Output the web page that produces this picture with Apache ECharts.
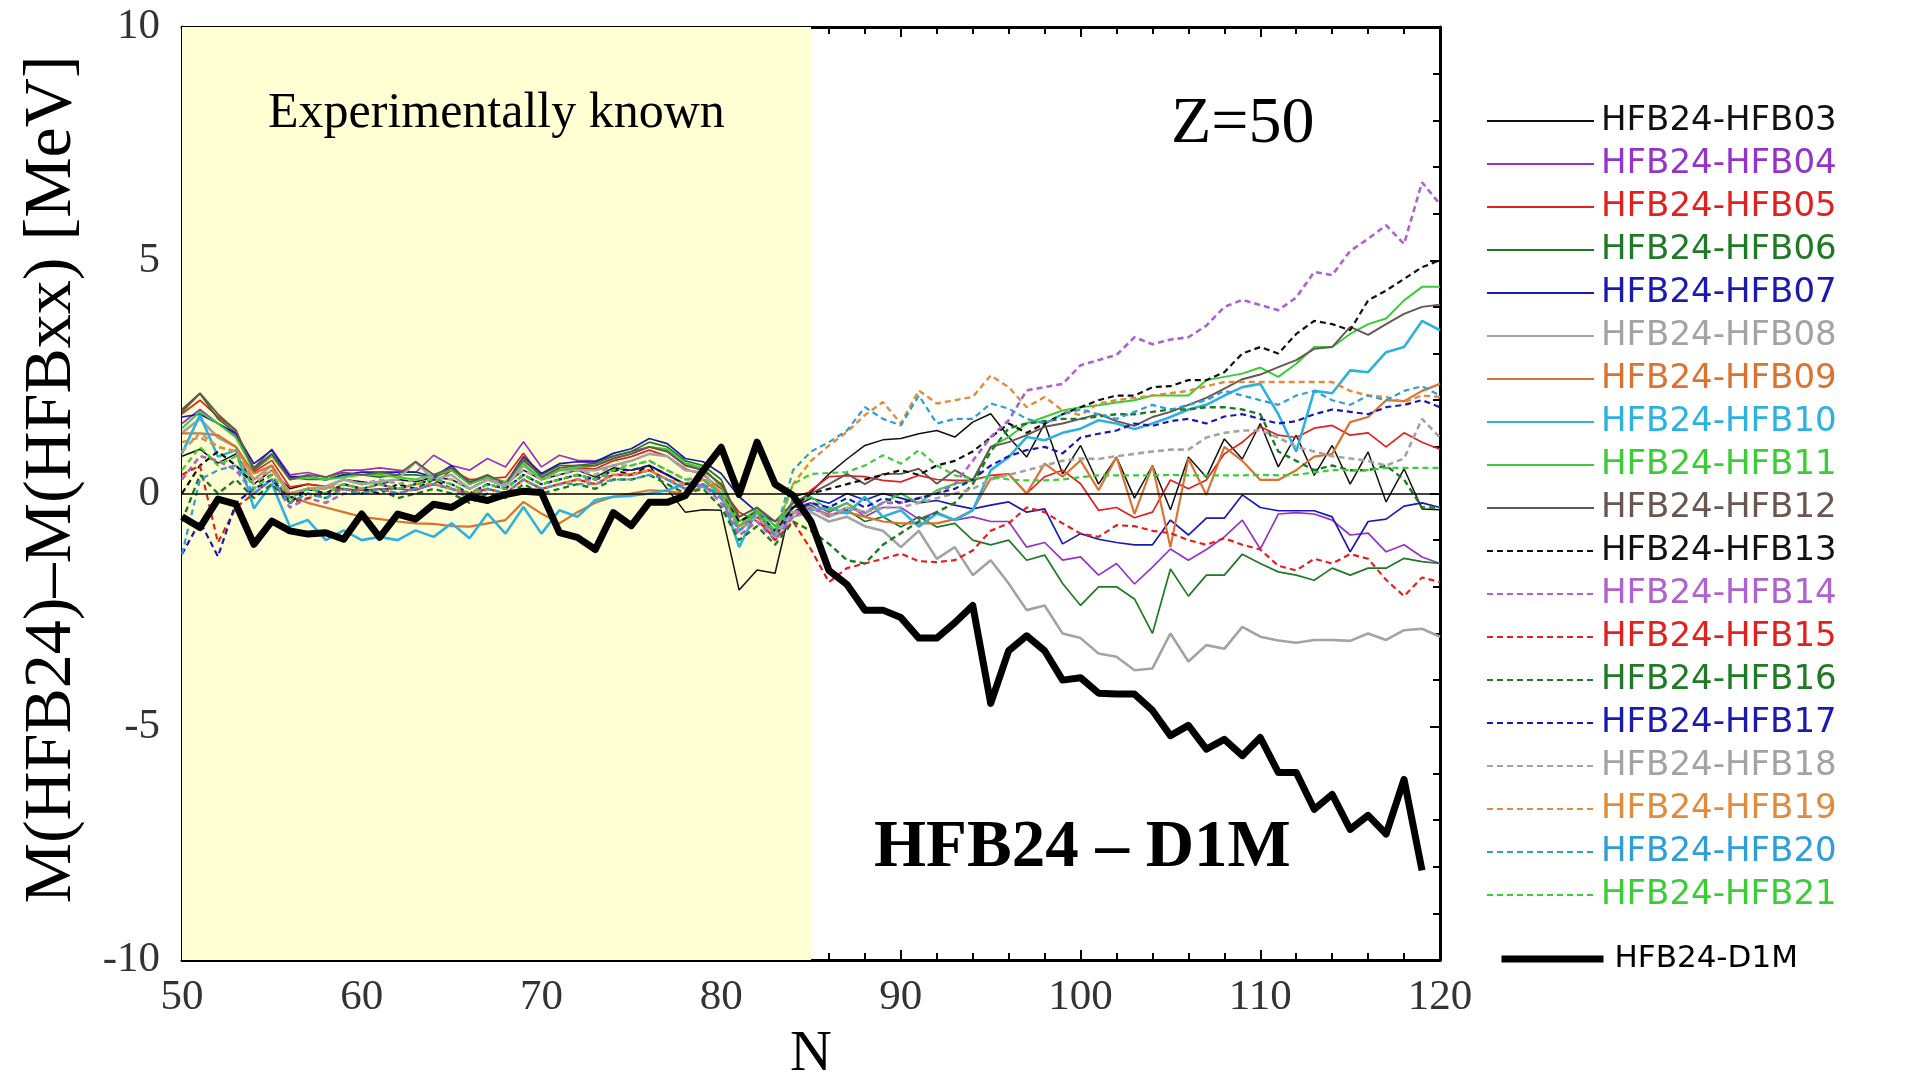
<!DOCTYPE html>
<html>
<head>
<meta charset="utf-8">
<script src="https://cdn.jsdelivr.net/npm/echarts@6/dist/echarts.min.js"></script>
<style>
html,body{margin:0;padding:0;background:#fff;}
#chart{width:1906px;height:1077px;}
</style>
</head>
<body>
<div id="chart"></div>
<script>
// Neutron number N
const N = [50,51,52,53,54,55,56,57,58,59,60,61,62,63,64,65,66,67,68,69,70,71,72,73,74,75,76,77,78,79,80,81,82,83,84,85,86,87,88,89,90,91,92,93,94,95,96,97,98,99,100,101,102,103,104,105,106,107,108,109,110,111,112,113,114,115,116,117,118,119,120];
const xTicks = [50,60,70,80,90,100,110,120];
const yTicks = [-10,-5,0,5,10];
const seriesNames = ['HFB24-HFB03','HFB24-HFB04','HFB24-HFB05','HFB24-HFB06','HFB24-HFB07','HFB24-HFB08','HFB24-HFB09','HFB24-HFB10','HFB24-HFB11','HFB24-HFB12','HFB24-HFB13','HFB24-HFB14','HFB24-HFB15','HFB24-HFB16','HFB24-HFB17','HFB24-HFB18','HFB24-HFB19','HFB24-HFB20','HFB24-HFB21'];
const d1mName = 'HFB24-D1M';

// mass differences [MeV], N = 50 .. 120
const HFB03 = [0.8,0.95,0.65,0.85,0.2,0.5,0.1,0.2,0.15,0.3, 0.25,0.2,0.3,0.25,0.35,0.3,0.1,0.3,0.2,0.5, 0.3,0.4,0.5,0.35,0.55,0.5,0.6,0.1,-0.4,-0.35, -0.36,-2.07,-1.64,-1.71,-0.07,0.03,0.42,0.74,1.03,1.15, 1.18,1.28,1.35,1.21,1.53,1.71,1.21,0.78,1.5,0.42, 1.03,0.2,0.78,-0.1,0.6,-0.35,0.78,0.35,1.17,0.74, 1.5,0.57,1.25,0.39,1.03,0.2,0.89,-0.18,0.53,-0.33, -0.35];
const HFB04 = [1.5,1.8,1.5,1.25,0.55,0.95,0.4,0.45,0.35,0.5, 0.5,0.55,0.5,0.45,0.82,0.6,0.5,0.75,0.57,1.11, 0.57,0.82,0.71,0.7,0.8,0.9,1.0,0.9,0.61,0.5, 0.2,-0.5,-0.3,-0.7,-0.3,-0.2,-0.4,-0.2,-0.5,-0.3, -0.3,-0.55,-0.4,-0.57,-0.5,-0.6,-0.6,-1.15,-1.05,-1.43, -1.36,-1.75,-1.5,-1.94,-1.58,-1.19,-1.43,-1.2,-0.93,-0.57, -1.19,-0.44,-0.41,-0.44,-0.57,-0.89,-0.85,-1.25,-1.1,-1.36, -1.5];
const HFB05 = [1.71,2.0,1.64,1.36,0.46,0.71,0.14,0.2,0.15,0.1, 0.07,0.1,0.1,0.07,0.2,0.5,0.3,0.32,0.35,0.86, 0.35,0.5,0.55,0.53,0.7,0.79,0.93,0.8,0.53,0.4, 0.1,-0.4,-0.6,-0.9,-0.3,0.07,0.36,0.38,0.36,0.28, 0.25,0.39,0.3,0.28,0.28,0.39,0.42,0.0,0.36,0.5, 0.21,-0.36,-0.3,-0.52,-0.4,0.29,0.1,0.29,0.85,1.1, 1.43,1.25,1.2,1.4,1.46,1.25,1.3,1.0,1.3,1.1, 0.95];
const HFB06 = [1.75,2.14,1.6,1.3,0.55,0.85,0.35,0.3,0.3,0.4, 0.4,0.35,0.4,0.4,0.35,0.5,0.2,0.35,0.2,0.7, 0.4,0.6,0.6,0.65,0.8,0.9,1.1,1.0,0.7,0.6, 0.3,-0.6,-0.4,-0.8,-0.3,-0.25,-0.5,-0.35,-0.6,-0.5, -0.72,-0.5,-0.72,-0.64,-1.0,-1.1,-1.0,-1.43,-1.32,-1.93, -2.4,-2.0,-2.0,-2.26,-3.0,-1.62,-2.2,-1.75,-1.75,-1.3, -1.5,-1.68,-1.75,-1.86,-1.6,-1.75,-1.6,-1.6,-1.39,-1.46, -1.5];
const HFB07 = [1.64,1.7,1.5,1.29,0.64,0.93,0.36,0.36,0.29,0.4, 0.46,0.46,0.46,0.46,0.36,0.6,0.21,0.39,0.21,0.79, 0.43,0.64,0.68,0.68,0.86,0.96,1.18,1.07,0.75,0.68, 0.43,-0.07,-0.4,-0.6,-0.3,-0.1,-0.21,0.0,-0.14,0.0, -0.1,-0.2,-0.15,-0.25,-0.33,-0.25,-0.18,-0.4,-0.33,-1.08, -0.86,-0.98,-1.05,-1.1,-1.1,-0.57,-0.89,-0.53,-0.53,-0.03, -0.3,-0.37,-0.37,-0.37,-0.5,-1.25,-0.6,-0.55,-0.27,-0.2, -0.3];
const HFB08 = [1.3,1.6,1.2,1.0,0.3,0.6,0.0,0.1,0.15,0.3, 0.2,0.25,0.3,0.68,0.3,0.4,0.1,0.3,0.15,0.6, 0.3,0.5,0.5,0.5,0.6,0.7,0.85,0.8,0.5,0.45, 0.0,-0.7,-0.5,-0.9,-0.5,-0.4,-0.6,-0.5,-0.7,-0.8, -1.15,-0.8,-1.4,-1.15,-1.75,-1.43,-1.93,-2.5,-2.4,-3.0, -3.1,-3.43,-3.5,-3.79,-3.75,-3.0,-3.6,-3.25,-3.33,-2.86, -3.07,-3.15,-3.2,-3.14,-3.14,-3.16,-3.0,-3.14,-2.93,-2.9, -3.07];
const HFB09 = [1.29,1.29,1.25,1.0,0.43,0.6,-0.07,-0.2,-0.3,-0.4, -0.5,-0.55,-0.6,-0.64,-0.65,-0.7,-0.71,-0.64,-0.57,-0.18, -0.43,-0.64,-0.4,-0.2,-0.07,0.0,0.07,0.05,0.0,0.15, 0.21,-0.79,-0.5,-0.79,-0.43,-0.3,-0.45,-0.4,-0.5,-0.6, -0.64,-0.64,-0.64,-0.55,-0.36,0.32,0.42,0.0,0.64,0.36, 0.71,0.07,0.78,-0.44,0.6,-1.15,0.75,-0.03,1.0,0.7, 0.29,0.29,0.5,0.79,0.85,1.53,1.64,2.0,1.98,2.2, 2.35];
const HFB10 = [0.86,1.68,0.79,0.93,-0.32,0.21,-0.71,-0.57,-1.0,-0.79, -1.0,-0.93,-1.0,-0.79,-0.93,-0.64,-0.96,-0.43,-0.86,-0.29, -0.86,-0.36,-0.5,-0.14,-0.07,-0.05,0.0,0.07,0.21,0.14, 0.0,-1.15,-0.36,-0.93,-0.14,-0.36,-0.3,-0.43,-0.07,-0.5, -0.36,-0.71,-0.43,-0.57,-0.36,0.5,0.78,1.21,1.14,1.3, 1.39,1.57,1.5,1.38,1.5,1.64,1.8,1.9,2.1,2.28, 2.35,1.7,0.9,2.2,2.15,2.64,2.6,3.03,3.14,3.7, 3.5];
const HFB11 = [1.4,1.75,1.5,1.2,0.5,0.8,0.3,0.35,0.3,0.35, 0.4,0.4,0.35,0.3,0.4,0.5,0.2,0.35,0.25,0.65, 0.3,0.5,0.55,0.6,0.75,0.85,1.0,0.95,0.65,0.55, 0.15,-0.6,-0.35,-0.7,-0.2,-0.07,-0.36,-0.21,-0.43,-0.2, 0.0,-0.21,0.07,0.21,0.28,1.0,1.21,1.5,1.64,1.78, 1.85,1.89,1.95,2.0,2.1,2.1,2.1,2.43,2.5,2.57, 2.7,2.5,2.78,3.14,3.14,3.42,3.63,3.75,4.14,4.43, 4.43];
const HFB12 = [1.8,2.15,1.7,1.35,0.5,0.85,0.3,0.4,0.35,0.45, 0.4,0.45,0.4,0.68,0.4,0.55,0.25,0.4,0.2,0.75, 0.35,0.55,0.6,0.6,0.75,0.85,1.0,0.9,0.6,0.5, 0.2,-0.5,-0.3,-0.6,-0.2,0.0,0.2,0.42,0.2,0.42, 0.42,0.53,0.21,0.5,0.28,1.0,1.1,1.25,1.43,1.5, 1.6,1.7,1.55,1.45,1.64,1.75,1.9,2.05,2.25,2.45, 2.55,2.71,2.86,3.1,3.14,3.57,3.4,3.63,3.85,4.0, 4.05];
const HFB13 = [0.0,0.6,0.9,0.6,0.2,0.4,-0.2,0.1,0.0,0.2, 0.1,0.0,0.2,0.1,0.3,0.1,0.0,0.2,0.1,0.4, 0.2,0.3,0.4,0.3,0.5,0.4,0.6,0.4,0.2,0.3, 0.0,-0.6,-0.4,-0.8,-0.3,0.0,0.1,0.2,0.3,0.4, 0.5,0.4,0.6,0.7,0.9,1.2,1.5,1.3,1.5,1.7, 1.85,2.0,2.1,2.1,2.28,2.3,2.43,2.43,2.6,3.0, 3.14,3.0,3.42,3.7,3.63,3.5,4.14,4.35,4.6,4.85, 5.0];
const HFB14 = [0.3,0.8,0.7,0.5,0.0,0.3,-0.3,-0.1,-0.2,0.0, 0.0,0.1,0.0,0.1,0.2,0.1,-0.1,0.1,0.0,0.3, 0.1,0.2,0.3,0.3,0.4,0.4,0.5,0.3,0.1,0.2, -0.2,-0.9,-0.6,-1.0,-0.5,-0.3,-0.5,-0.3,-0.4,-0.2, -0.2,-0.1,0.0,0.2,0.7,1.21,1.57,2.21,2.28,2.35, 2.75,2.86,2.97,3.35,3.2,3.3,3.35,3.6,4.0,4.15, 4.04,3.93,4.2,4.75,4.68,5.2,5.46,5.75,5.35,6.67, 6.2];
const HFB15 = [0.4,0.6,-1.05,-0.3,0.0,0.3,-0.2,-0.1,0.0,0.1, 0.0,0.1,0.0,0.1,0.2,0.1,0.0,0.1,0.0,0.3, 0.1,0.2,0.3,0.2,0.4,0.4,0.5,0.3,0.1,0.2, -0.1,-0.8,-0.5,-1.0,-0.6,-1.2,-1.9,-1.6,-1.5,-1.4, -1.29,-1.45,-1.47,-1.43,-1.22,-0.8,-0.64,-0.3,-0.4,-0.64, -0.86,-0.93,-0.68,-0.7,-0.8,-0.85,-1.0,-1.1,-0.96,-1.1, -1.2,-1.55,-1.65,-1.4,-1.5,-1.3,-1.4,-1.85,-2.2,-1.8, -1.9];
const HFB16 = [-0.6,0.4,0.0,0.3,-0.1,0.2,-0.2,0.0,-0.1,0.1, 0.0,0.1,-0.1,0.0,0.1,0.0,-0.2,0.0,-0.1,0.2, 0.0,0.1,0.2,0.1,0.3,0.3,0.4,0.2,0.0,0.1, -0.3,-1.0,-0.7,-1.1,-0.6,-0.8,-1.08,-1.43,-1.5,-1.1, -0.85,-0.6,-0.4,-0.2,0.2,0.9,1.4,1.5,1.55,1.6, 1.6,1.65,1.7,1.7,1.75,1.8,1.8,1.85,1.85,1.8, 1.7,0.9,0.7,0.5,0.6,0.5,0.5,0.6,0.3,-0.3, -0.3];
const HFB17 = [-1.3,-0.6,-1.35,-0.2,0.1,0.3,-0.1,0.1,0.0,0.2, 0.1,0.2,0.1,0.2,0.3,0.2,0.0,0.2,0.1,0.4, 0.2,0.3,0.4,0.3,0.5,0.5,0.6,0.4,0.2,0.3, 0.0,-0.7,-0.4,-0.9,-0.4,-0.2,-0.3,-0.1,-0.3,-0.1, -0.2,-0.1,0.0,0.1,0.3,0.6,0.8,0.93,1.0,0.86, 1.2,1.28,1.35,1.5,1.45,1.55,1.6,1.5,1.65,1.7, 1.6,1.5,1.55,1.7,1.8,1.75,1.7,1.85,1.9,2.0, 1.85];
const HFB18 = [0.9,1.3,1.0,0.9,0.2,0.5,0.0,0.1,0.1,0.3, 0.2,0.3,0.2,0.3,0.35,0.3,0.1,0.3,0.2,0.5, 0.3,0.4,0.5,0.4,0.6,0.6,0.7,0.5,0.3,0.35, 0.0,-0.8,-0.5,-0.9,-0.4,-0.3,-0.5,-0.3,-0.4,-0.3, -0.3,-0.2,-0.1,0.0,0.1,0.3,0.4,0.5,0.6,0.7, 0.75,0.74,0.8,0.85,0.9,0.94,0.94,1.2,1.3,1.35, 1.35,1.2,1.0,0.9,0.8,0.75,0.7,0.6,0.75,1.6, 1.2];
const HFB19 = [1.1,1.2,1.0,0.9,0.3,0.5,0.0,0.1,0.1,0.2, 0.1,0.2,0.1,0.2,0.2,0.1,0.0,0.1,0.0,0.3, 0.1,0.2,0.3,0.2,0.4,0.4,0.5,0.3,0.2,0.3, 0.0,-0.7,-0.4,-0.9,0.2,0.7,1.03,1.32,1.68,1.96, 1.5,2.21,1.93,2.0,2.07,2.53,2.28,1.85,2.07,1.78, 1.68,1.93,2.0,2.05,2.1,2.15,2.2,2.3,2.39,2.39, 2.39,2.39,2.39,2.39,2.39,2.2,2.1,2.07,1.96,2.1, 2.07];
const HFB20 = [-1.3,0.3,0.5,0.6,0.0,0.3,-0.2,0.0,-0.1,0.1, 0.0,0.1,0.0,0.1,0.2,0.1,-0.1,0.1,0.0,0.3, 0.1,0.2,0.2,0.2,0.3,0.3,0.4,0.3,0.1,0.2, -0.1,-0.8,-0.4,-0.9,0.5,0.9,1.1,1.35,1.85,1.6, 1.46,2.1,1.5,1.6,1.6,1.93,1.82,1.6,1.5,1.7, 1.8,1.7,1.6,1.75,1.9,1.8,1.9,2.0,2.2,2.1, 2.0,1.9,2.1,2.2,2.0,1.9,2.1,2.0,2.2,2.3, 2.1];
const HFB21 = [0.5,1.0,0.6,0.8,0.1,0.4,-0.1,0.1,0.0,0.2, 0.1,0.2,0.1,0.2,0.3,0.2,0.0,0.2,0.1,0.4, 0.2,0.3,0.4,0.3,0.5,0.6,0.7,0.5,0.3,0.3, 0.0,-0.7,-0.4,-0.8,0.2,0.42,0.44,0.46,0.6,0.82, 0.64,0.93,0.6,0.39,0.32,0.36,0.3,0.28,0.28,0.3, 0.35,0.39,0.39,0.39,0.39,0.4,0.39,0.39,0.39,0.39, 0.4,0.39,0.4,0.45,0.5,0.5,0.5,0.55,0.55,0.55, 0.55];
// HFB24 - D1M, N = 50 .. 119
const D1M = [-0.5,-0.73,-0.12,-0.23,-1.09,-0.59,-0.8,-0.87,-0.84,-0.98, -0.44,-0.94,-0.44,-0.55,-0.23,-0.3,-0.07,-0.15,-0.02,0.05, 0.02,-0.84,-0.94,-1.2,-0.41,-0.69,-0.19,-0.19,-0.05,0.49, 0.99,-0.02,1.1,0.2,-0.04,-0.6,-1.65,-1.95,-2.5,-2.5, -2.66,-3.1,-3.1,-2.77,-2.4,-4.5,-3.37,-3.05,-3.37,-4.0, -3.95,-4.28,-4.3,-4.3,-4.65,-5.19,-4.97,-5.48,-5.27,-5.62, -5.23,-5.98,-5.98,-6.77,-6.45,-7.2,-6.9,-7.3,-6.13,-8.08];
const knownRange = [50, 85];

const valueSets = [HFB03,HFB04,HFB05,HFB06,HFB07,HFB08,HFB09,HFB10,HFB11,HFB12,HFB13,HFB14,HFB15,HFB16,HFB17,HFB18,HFB19,HFB20,HFB21];

// styles
const colors = ['#111111','#9433C9','#E0211F','#1F7A25','#1A1AB0','#A3A3A3','#DA7230','#2DB2DF','#3ACD36','#6A5650',
                '#111111','#AE62CE','#E0211F','#1F7A25','#1A1AB0','#A3A3A3','#E08C3A','#2E9FD6','#3ACD36'];
const dashed = [false,false,false,false,false,false,false,false,false,false,true,true,true,true,true,true,true,true,true];
const widths = [1.5,1.7,1.7,1.7,1.7,2.6,2.2,2.6,2.0,1.9, 2.2,2.6,2.2,2.4,2.2,2.6,2.4,2.2,2.2];

const pairs = vals => vals.map((v, i) => [N[i], v]);

const series = [];
series.push({
  type: 'line', name: '_bg', data: [], silent: true, z: 1, symbol: 'none',
  markArea: { silent: true, itemStyle: { color: '#FFFFD3' }, data: [[{ xAxis: knownRange[0] }, { xAxis: knownRange[1] }]] },
  markLine: { silent: true, symbol: 'none', label: { show: false }, lineStyle: { color: '#000', width: 1.6, type: 'solid' }, data: [{ yAxis: 0 }] }
});
seriesNames.forEach((name, k) => {
  series.push({
    type: 'line', name: name, data: pairs(valueSets[k]), symbol: 'none', showSymbol: false, silent: true, z: 3,
    lineStyle: { color: colors[k], width: widths[k], type: dashed[k] ? [6, 4] : 'solid' },
    itemStyle: { color: colors[k] }
  });
});
series.push({
  type: 'line', name: d1mName, data: pairs(D1M), symbol: 'none', showSymbol: false, silent: true, z: 5,
  lineStyle: { color: '#000', width: 7, join: 'round' }, itemStyle: { color: '#000' }
});

const chart = echarts.init(document.getElementById('chart'), null, { renderer: 'canvas' });
const serif = '"Liberation Serif", "Times New Roman", serif';
const sans = '"DejaVu Sans", sans-serif';

const axisCommon = {
  axisLine: { show: true, onZero: false, lineStyle: { color: '#000', width: 3 } },
  axisTick: { show: true, inside: true, length: 10, lineStyle: { color: '#000', width: 2 } },
  minorTick: { show: true, splitNumber: 5, length: 7, lineStyle: { color: '#000', width: 2 } },
  splitLine: { show: false }
};

chart.setOption({
  animation: false,
  backgroundColor: '#fff',
  grid: { left: 182, top: 27, right: 466, bottom: 117, containLabel: false, outerBoundsMode: 'none' },
  xAxis: [
    Object.assign({}, axisCommon, {
      type: 'value', min: 50, max: 120, interval: 10, position: 'bottom',
      axisLabel: { show: true, margin: 16, fontFamily: serif, fontSize: 43, color: '#333',
                   customValues: xTicks },
      name: 'N', nameLocation: 'middle', nameGap: 66,
      nameTextStyle: { fontFamily: serif, fontSize: 58, color: '#000' }
    }),
    Object.assign({}, axisCommon, {
      type: 'value', min: 50, max: 120, interval: 10, position: 'top', axisLabel: { show: false }
    })
  ],
  yAxis: [
    Object.assign({}, axisCommon, {
      type: 'value', min: -10, max: 10, interval: 5, position: 'left',
      axisLabel: { show: true, margin: 22, fontFamily: serif, fontSize: 43, color: '#333' },
      name: 'M(HFB24)–M(HFBxx) [MeV]', nameLocation: 'middle', nameGap: 96,
      nameTextStyle: { fontFamily: serif, fontSize: 68, color: '#000', padding: [0, 0, 0, 28] }
    }),
    Object.assign({}, axisCommon, {
      type: 'value', min: -10, max: 10, interval: 5, position: 'right', axisLabel: { show: false }
    })
  ],
  legend: [
    {
      orient: 'vertical', left: 1486, top: 103, padding: 0, itemGap: 7,
      itemWidth: 107, itemHeight: 2, selectedMode: false,
      itemStyle: { opacity: 0 },
      textStyle: { fontFamily: sans, fontSize: 34, lineHeight: 36, padding: [0, 0, 0, 2] },
      data: seriesNames.map((n, k) => ({ name: n, textStyle: { color: colors[k] } }))
    },
    {
      orient: 'vertical', left: 1498, top: 941, padding: 0,
      itemWidth: 102, itemHeight: 2, selectedMode: false,
      itemStyle: { opacity: 0 },
      lineStyle: { width: 7, color: '#000' },
      textStyle: { fontFamily: sans, fontSize: 31, lineHeight: 36, color: '#000', padding: [0, 0, 0, 6] },
      data: [{ name: d1mName }]
    }
  ],
  graphic: [
    { type: 'text', left: 268, top: 89, z: 10, silent: true,
      style: { text: 'Experimentally known', font: '50px ' + serif, fill: '#000' } },
    { type: 'text', left: 1171, top: 92, z: 10, silent: true,
      style: { text: 'Z=50', font: '66px ' + serif, fill: '#000' } },
    { type: 'text', left: 874, top: 815, z: 10, silent: true,
      style: { text: 'HFB24 – D1M', font: 'bold 67px ' + serif, fill: '#000' } }
  ],
  series: series
});
</script>
</body>
</html>
